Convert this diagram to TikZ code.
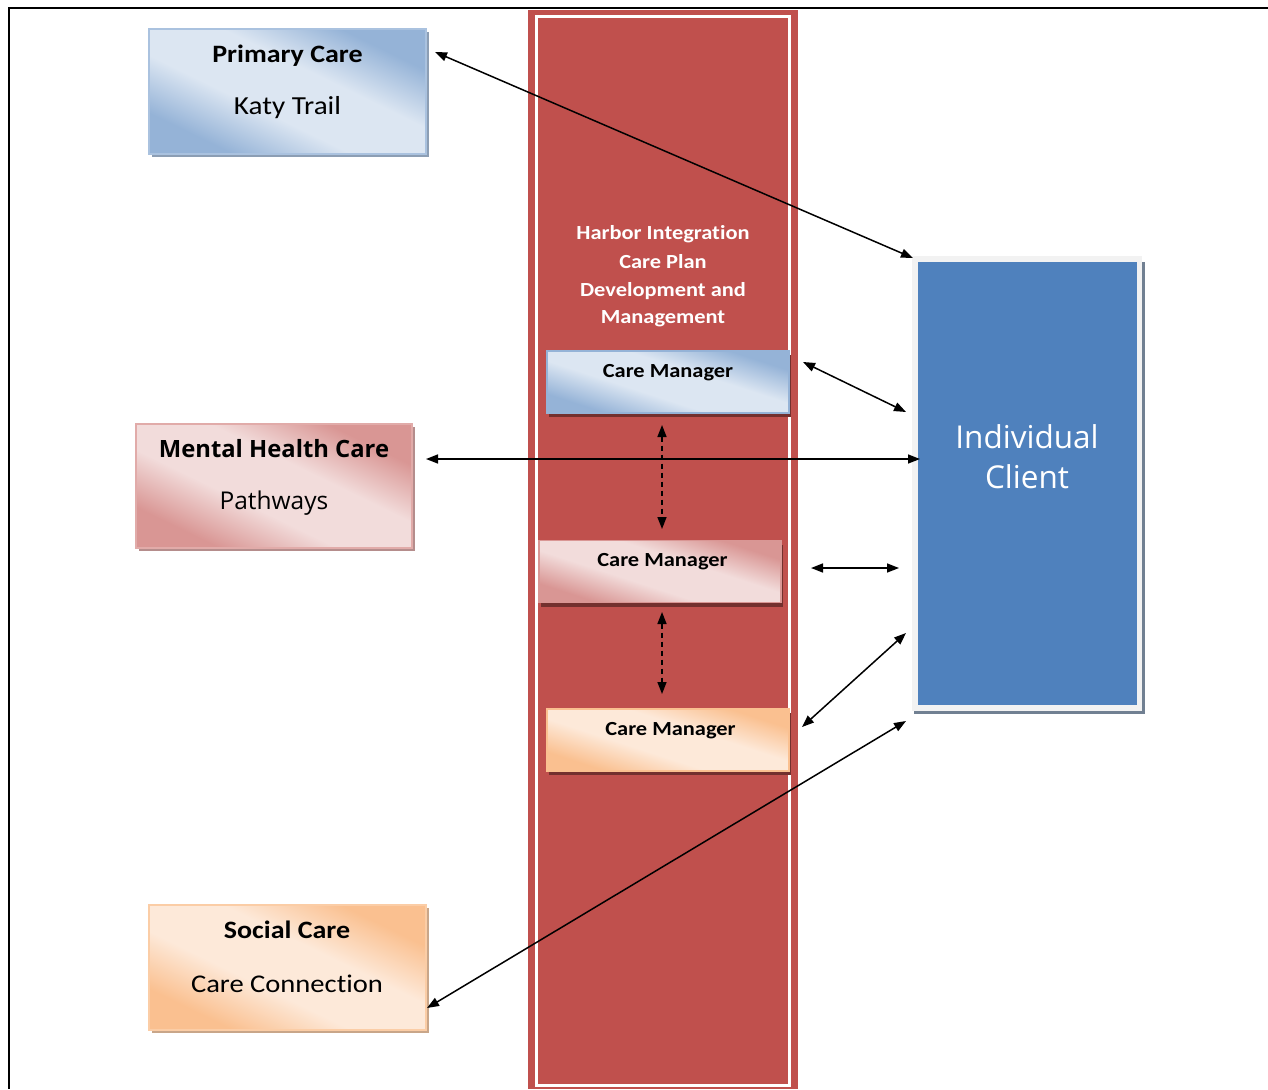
\documentclass[tikz,border=0pt]{standalone}
\usepackage{fontspec}
\setmainfont{Carlito}[FakeStretch=1.12, Ligatures=NoCommon]
\newfontfamily\osans{Open Sans}
\usetikzlibrary{arrows.meta,shadows}
\definecolor{bdark}{HTML}{95B3D7}
\definecolor{blight}{HTML}{DCE6F2}
\definecolor{pdark}{HTML}{D99694}
\definecolor{plight}{HTML}{F2DCDB}
\definecolor{odark}{HTML}{FAC090}
\definecolor{olight}{HTML}{FDE9D9}
\definecolor{colred}{HTML}{C0504D}
\definecolor{cblue}{HTML}{4F81BD}
\definecolor{cframe}{HTML}{F2F2F2}
\pgfdeclarehorizontalshading{bluegrad}{100bp}{color(0bp)=(bdark); color(27bp)=(bdark); color(42bp)=(blight); color(58bp)=(blight); color(73bp)=(bdark); color(100bp)=(bdark)}
\pgfdeclarehorizontalshading{pinkgrad}{100bp}{color(0bp)=(pdark); color(27bp)=(pdark); color(42bp)=(plight); color(58bp)=(plight); color(73bp)=(pdark); color(100bp)=(pdark)}
\pgfdeclarehorizontalshading{orangegrad}{100bp}{color(0bp)=(odark); color(27bp)=(odark); color(42bp)=(olight); color(58bp)=(olight); color(73bp)=(odark); color(100bp)=(odark)}
\tikzset{
  bigbox/.style={minimum width=277pt, minimum height=125pt, inner sep=0pt, line width=1.2pt, shading angle=64},
  cmbox/.style={minimum width=242pt, minimum height=62pt, inner sep=0pt, line width=1.2pt, shading angle=72,
    drop shadow={shadow xshift=2pt, shadow yshift=-4pt, fill=colred!60!black, opacity=1}},
  titletxt/.style={font=\bfseries\fontsize{25}{29}\selectfont, inner sep=0pt},
  subtxt/.style={font=\fontsize{26}{30}\selectfont, inner sep=0pt},
  cmtxt/.style={font=\bfseries\fontsize{20}{24}\selectfont, inner sep=0pt},
  harbtxt/.style={font=\bfseries\fontsize{20}{24}\selectfont, text=white, inner sep=0pt},
  biarrow/.style={{Triangle[length=12pt,width=9pt]}-{Triangle[length=12pt,width=9pt]}, line width=1.5pt},
  dasharrow/.style={biarrow, dash pattern=on 5pt off 4pt}
}
\begin{document}
\begin{tikzpicture}[x=1pt,y=-1pt]
\useasboundingbox (0,0) rectangle (1268,1089);
\fill[white] (0,0) rectangle (1268,1089);
% frame
\draw[line width=2pt] (1268,7.7) -- (9,7.7) -- (9,1089);
% red column
\fill[colred] (528,10) rectangle (798,1089);
\draw[white, line width=3pt] (536.5,16.7) rectangle (789.5,1085);
% Harbor text
\node[harbtxt] (h1) at (663,234) {Harbor Integration};
\node[harbtxt] (h2) at (663,262) {Care Plan};
\node[harbtxt] (h3) at (663,291) {Development and};
\node[harbtxt] (h4) at (663,319) {Management};
% big boxes
\node[bigbox, shading=bluegrad, draw=bdark!80!white, drop shadow={shadow xshift=3pt, shadow yshift=-3pt, fill=bdark!60!gray, opacity=1}] (pc) at (287.5,91.5) {};
\node[titletxt] (pct) at (287.5,56) {Primary Care};
\node[subtxt] (pcs) at (287.5,108) {Katy Trail};
\node[bigbox, minimum width=276pt, minimum height=124pt, shading=pinkgrad, draw=pdark!80!white, drop shadow={shadow xshift=3pt, shadow yshift=-3pt, fill=pdark!60!gray, opacity=1}] (mh) at (274,486) {};
\node[titletxt, font=\osans\bfseries\fontsize{23.8}{28}\selectfont] (mht) at (274,449) {Mental Health Care};
\node[subtxt, font=\osans\fontsize{24.5}{28}\selectfont] (mhs) at (274,503) {Pathways};
\node[bigbox, shading=orangegrad, draw=odark!80!white, drop shadow={shadow xshift=3pt, shadow yshift=-3pt, fill=odark!60!gray, opacity=1}] (sc) at (287.5,967.5) {};
\node[titletxt] (sct) at (287,930) {Social Care};
\node[subtxt, font=\fontsize{25.5}{30}\selectfont] (scs) at (287,984) {Care Connection};
% care managers
\node[cmbox, shading=bluegrad, draw=bdark] (cm1) at (668,382) {};
\node[cmtxt] (cm1t) at (668,373) {Care Manager};
\node[cmbox, shading=pinkgrad, draw=pdark] (cm2) at (660,571.5) {};
\node[cmtxt] (cm2t) at (662.5,562) {Care Manager};
\node[cmbox, shading=orangegrad, draw=odark] (cm3) at (668,740) {};
\node[cmtxt] (cm3t) at (670.5,731) {Care Manager};
% individual client
\fill[gray!70!cblue] (914,262) rectangle (1145,714);
\node[fill=cframe, minimum width=230pt, minimum height=455pt, inner sep=0pt] (icf) at (1027,483.5) {};
\node[fill=cblue, minimum width=219pt, minimum height=443pt, inner sep=0pt] (ic) at (1027.5,483.5) {};
\node[font=\osans\fontsize{31.5}{40}\selectfont, text=white, align=center, inner sep=0pt] (ict) at (1027,457) {Individual\\Client};
% connector end points
\coordinate (a1s) at (435,52);   \coordinate (a1e) at (913,258);
\coordinate (a2s) at (803,362);  \coordinate (a2e) at (906,412);
\coordinate (a3s) at (426,459);  \coordinate (a3e) at (920,459);
\coordinate (a4s) at (662,425);  \coordinate (a4e) at (662,529);
\coordinate (a5s) at (811,568);  \coordinate (a5e) at (899,568);
\coordinate (a6s) at (662,612);  \coordinate (a6e) at (662,694);
\coordinate (a7s) at (802,727);  \coordinate (a7e) at (906,633);
\coordinate (a8s) at (427,1008); \coordinate (a8e) at (906,721);
\draw[biarrow] (a1s) -- (a1e);
\draw[biarrow] (a2s) -- (a2e);
\draw[biarrow] (a3s) -- (a3e);
\draw[dasharrow] (a4s) -- (a4e);
\draw[biarrow] (a5s) -- (a5e);
\draw[dasharrow] (a6s) -- (a6e);
\draw[biarrow] (a7s) -- (a7e);
\draw[biarrow] (a8s) -- (a8e);
\end{tikzpicture}
\end{document}
